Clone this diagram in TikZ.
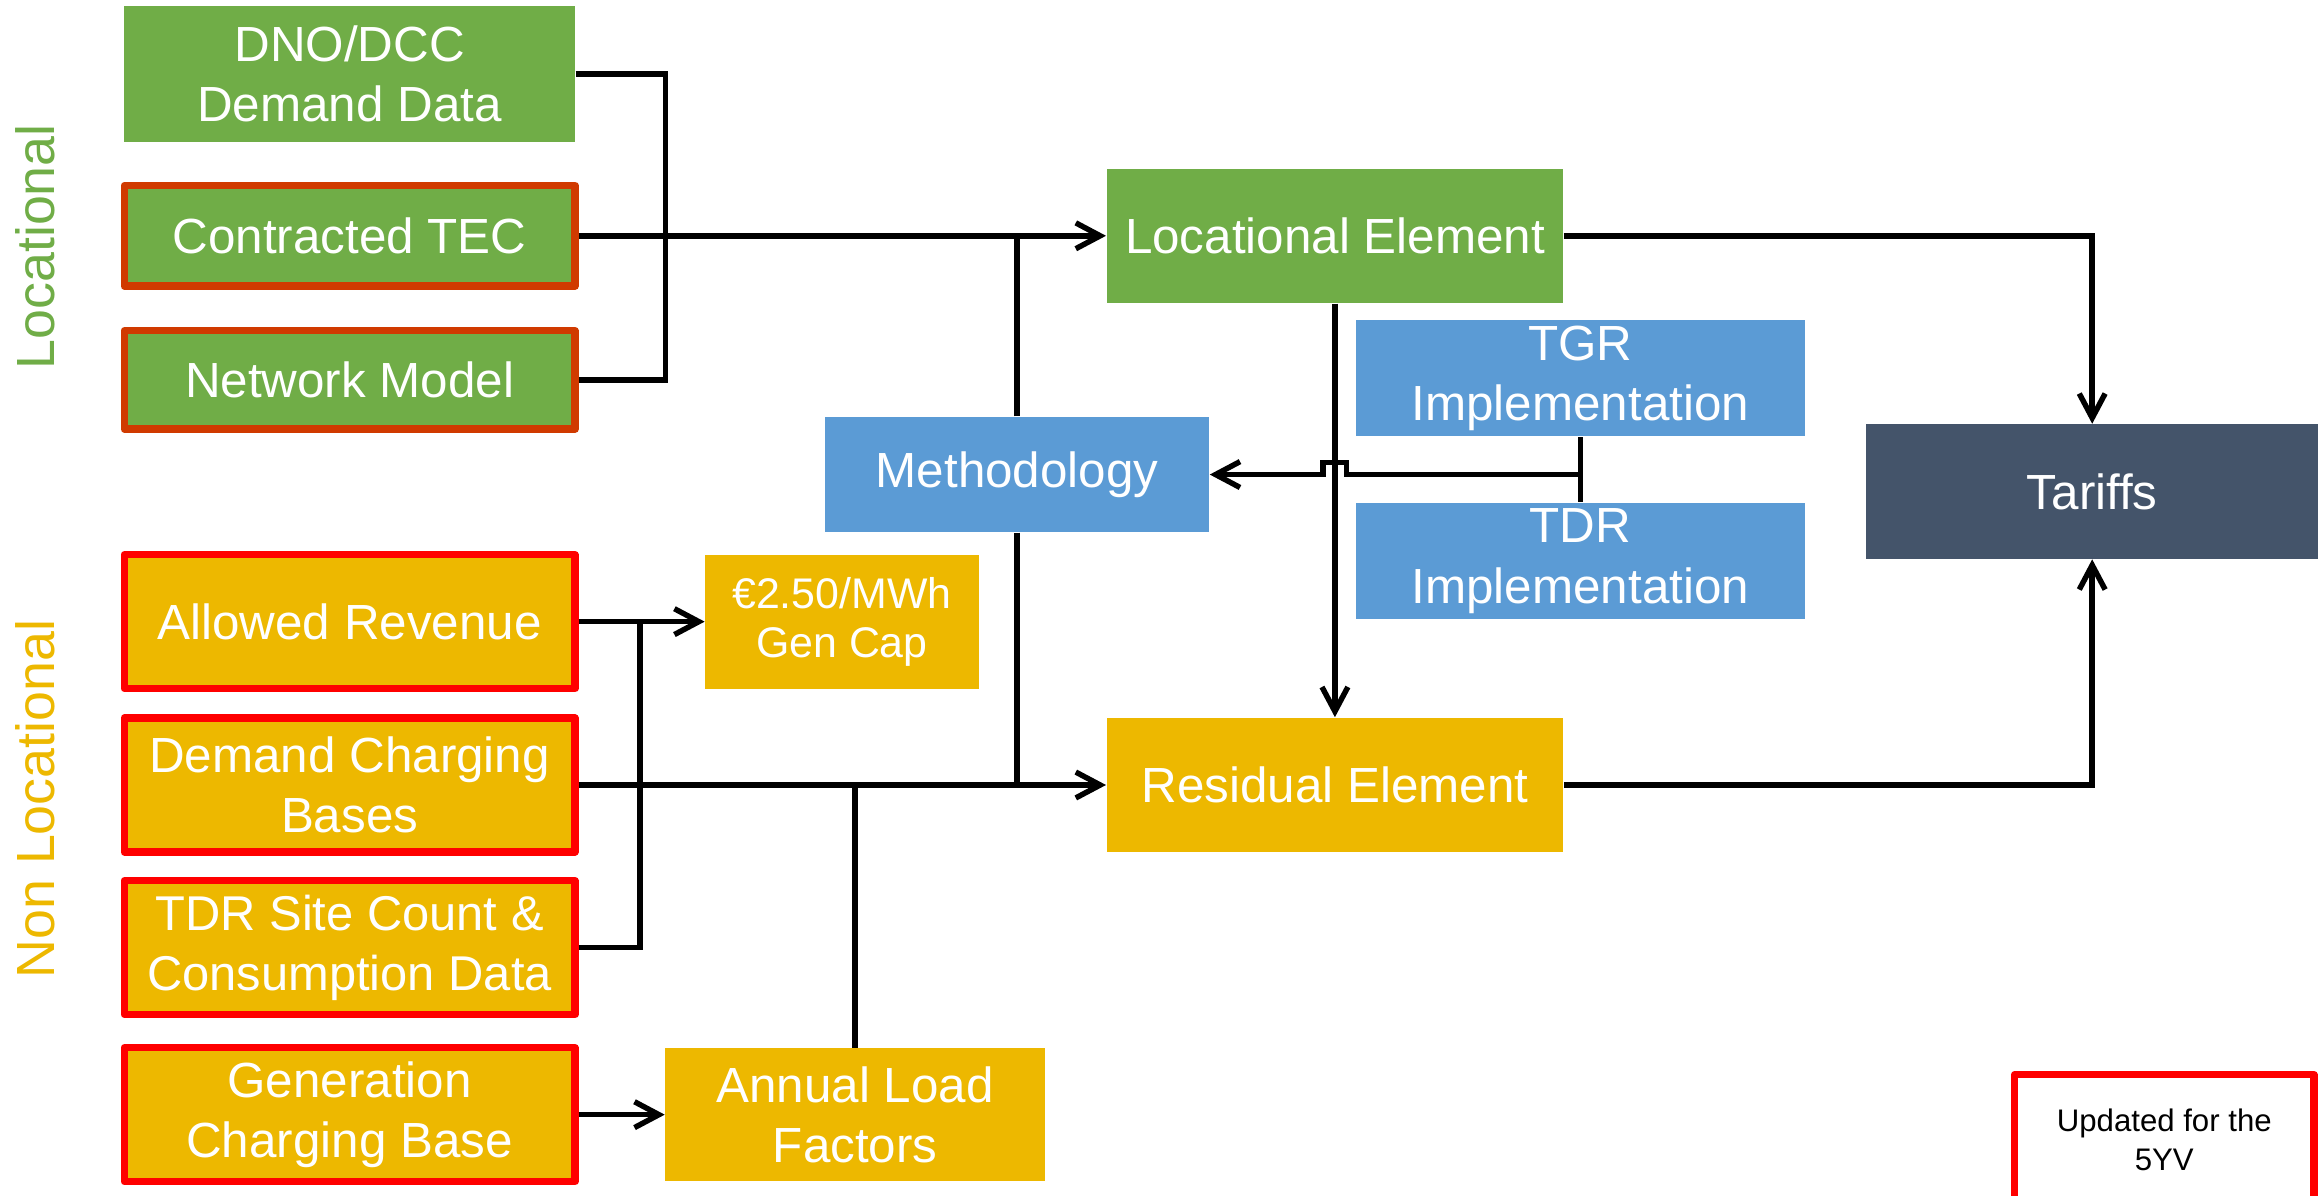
\documentclass[tikz,border=0pt]{standalone}
\usepackage{fontspec}
\setmainfont{Liberation Sans}
\usetikzlibrary{arrows.meta}
\definecolor{locgreen}{RGB}{112,173,71}
\definecolor{nonlocgold}{RGB}{237,184,0}
\definecolor{implblue}{RGB}{91,155,213}
\definecolor{tariffslate}{RGB}{68,84,106}
\definecolor{tecred}{RGB}{208,58,0}
\definecolor{updred}{RGB}{255,0,0}
\newcommand{\boxfont}{\fontsize{19}{23.3}\selectfont}
\newcommand{\smallboxfont}{\fontsize{16.5}{19}\selectfont}
\newcommand{\sidefont}{\fontsize{20.7}{24}\selectfont}
\newcommand{\notefont}{\fontsize{12}{14.8}\selectfont}

\begin{document}
\begin{tikzpicture}[x=0.2mm, y=-0.2mm, >={Straight Barb[length=3.3mm, width=3.5mm]}]
  \useasboundingbox (0,0) rectangle (1568,809);
  % Node styles
  \tikzset{
    block/.style={rectangle, inner sep=2pt, align=center, text=white, font=\boxfont},
    locational/.style={block, fill=locgreen, minimum width=6.1cm},
    updated/.style={line width=2.8pt, line join=round},
    tecinput/.style={locational, updated, draw=tecred},
    nonlocational/.style={block, fill=nonlocgold, minimum width=6.1cm, minimum height=1.81cm, updated, draw=updred},
    residual/.style={block, fill=nonlocgold},
    implement/.style={block, fill=implblue, minimum width=6.08cm, minimum height=1.57cm},
    element/.style={block, minimum width=6.18cm, minimum height=1.82cm},
    sidelabel/.style={rotate=90, inner sep=0pt, font=\sidefont},
    link/.style={line width=2.1pt},
    flow/.style={->, line width=2.1pt}
  }

  % Locational inputs
  \node[locational, minimum height=1.83cm] (dno) at (236.5,50) {DNO/DCC\\Demand Data};
  \node[tecinput, minimum height=1.36cm] (tec) at (236.5,159.5) {Contracted TEC};
  \node[tecinput, minimum height=1.33cm] (netmodel) at (236.5,257) {Network Model};

  % Non locational inputs
  \node[nonlocational] (revenue) at (236.5,420.5) {Allowed Revenue};
  \node[nonlocational] (demandbases) at (236.5,531) {Demand Charging\\Bases};
  \node[nonlocational, font=\fontsize{18.8}{23}\selectfont] (tdrsite) at (236.5,641) {TDR Site Count \&\\Consumption Data};
  \node[nonlocational] (genbase) at (236.5,754) {Generation\\Charging Base};
  \node[residual, font=\smallboxfont, minimum width=3.7cm, minimum height=1.81cm] (gencap) at (569.5,420.5) {€2.50/MWh\\Gen Cap};
  \node[residual, minimum width=5.14cm, minimum height=1.8cm] (loadfactors) at (578.5,754) {Annual Load\\Factors};

  % Methodology and implementations
  \node[implement, minimum width=5.2cm, minimum height=1.56cm] (method) at (688,321) {Methodology};
  \node[implement] (tgr) at (1069,256) {TGR\\Implementation};
  \node[implement, minimum height=1.58cm] (tdrimpl) at (1069,379.5) {TDR\\Implementation};

  % Elements and tariffs
  \node[element, fill=locgreen] (locel) at (903,159.5) {Locational Element};
  \node[element, fill=nonlocgold] (resel) at (903,531) {Residual Element};
  \node[element, fill=tariffslate, minimum width=6.11cm] (tariffs) at (1415.25,332.5) {Tariffs};

  % Side labels and note
  \node[sidelabel, text=locgreen] (loclabel) at (24,167) {Locational};
  \node[sidelabel, text=nonlocgold] (nonloclabel) at (24,540.5) {Non Locational};
  \node[updated, draw=updred, fill=white, minimum width=4.05cm, minimum height=1.76cm, align=center, font=\notefont] (note) at (1464,771) {Updated for the\\5YV};

  % Locational connectors
  \coordinate (locbus) at (450,159.5);
  \draw[link] (dno.east) -| (locbus) |- (netmodel.east);
  \draw[flow] (tec.east) -- (locel.west);
  \draw[link] (method.north) -- (method.north |- tec.east);
  \draw[link] (method.south) -- (method.south |- demandbases.east);
  \draw[flow] (locel.south) -- (resel.north);
  \draw[link] (tgr.south) -- (tdrimpl.north);
  \coordinate (impljoin) at (tgr.south |- method.east);
  \draw[flow] (impljoin) -- ([xshift=1.6mm]locel.south |- method.east) -- ++(0,-8) -- ++(-16,0) -- ++(0,8) -- (method.east);
  \draw[flow] (locel.east) -| (tariffs.north);
  \draw[flow] (resel.east) -| (tariffs.south);

  % Non locational connectors
  \coordinate (revbus) at (433,420.5);
  \draw[flow] (revenue.east) -- (gencap.west);
  \draw[link] (tdrsite.east) -| (revbus);
  \draw[flow] (demandbases.east) -- (resel.west);
  \draw[link] (loadfactors.north) -- (loadfactors.north |- demandbases.east);
  \draw[flow] (genbase.east) -- (loadfactors.west);
\end{tikzpicture}
\end{document}
